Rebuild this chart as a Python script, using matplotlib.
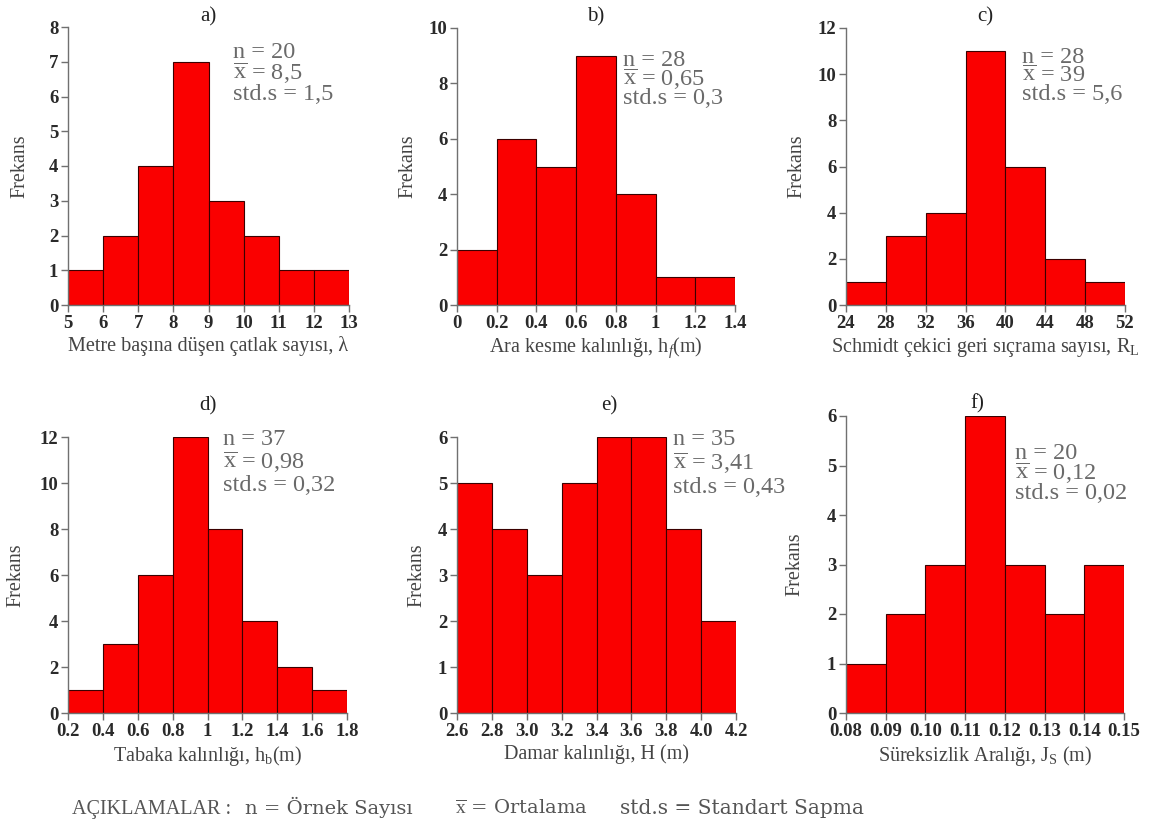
import numpy as np
import matplotlib
matplotlib.use("Agg")
import matplotlib.pyplot as plt

plt.rcParams["font.family"] = ["Liberation Serif", "DejaVu Serif"]
plt.rcParams["mathtext.fontset"] = "custom"
plt.rcParams["mathtext.rm"] = "Liberation Serif"
plt.rcParams["mathtext.it"] = "Liberation Serif:italic"

W, H = 1157, 832

# --- data ---
edges_a = [5, 6, 7, 8, 9, 10, 11, 12, 13]
counts_a = [1, 2, 4, 7, 3, 2, 1, 1]
xt_a = ["5", "6", "7", "8", "9", "10", "11", "12", "13"]
yt_a = [0, 1, 2, 3, 4, 5, 6, 7, 8]

edges_b = [0, 0.2, 0.4, 0.6, 0.8, 1.0, 1.2, 1.4]
counts_b = [2, 6, 5, 9, 4, 1, 1]
xt_b = ["0", "0.2", "0.4", "0.6", "0.8", "1", "1.2", "1.4"]
yt_b = [0, 2, 4, 6, 8, 10]

edges_c = [24, 28, 32, 36, 40, 44, 48, 52]
counts_c = [1, 3, 4, 11, 6, 2, 1]
xt_c = ["24", "28", "32", "36", "40", "44", "48", "52"]
yt_c = [0, 2, 4, 6, 8, 10, 12]

edges_d = [0.2, 0.4, 0.6, 0.8, 1.0, 1.2, 1.4, 1.6, 1.8]
counts_d = [1, 3, 6, 12, 8, 4, 2, 1]
xt_d = ["0.2", "0.4", "0.6", "0.8", "1", "1.2", "1.4", "1.6", "1.8"]
yt_d = [0, 2, 4, 6, 8, 10, 12]

edges_e = [2.6, 2.8, 3.0, 3.2, 3.4, 3.6, 3.8, 4.0, 4.2]
counts_e = [5, 4, 3, 5, 6, 6, 4, 2]
xt_e = ["2.6", "2.8", "3.0", "3.2", "3.4", "3.6", "3.8", "4.0", "4.2"]
yt_e = [0, 1, 2, 3, 4, 5, 6]

edges_f = [0.08, 0.09, 0.10, 0.11, 0.12, 0.13, 0.14, 0.15]
counts_f = [1, 2, 3, 6, 3, 2, 3]
xt_f = ["0.08", "0.09", "0.10", "0.11", "0.12", "0.13", "0.14", "0.15"]
yt_f = [0, 1, 2, 3, 4, 5, 6]

titles = ["a)", "b)", "c)", "d)", "e)", "f)"]
xlabels = [
    "Metre başına düşen çatlak sayısı, λ",
    "Ara kesme kalınlığı, h$_{\\mathit{f}}$(m)",
    "Schmidt çekici geri sıçrama sayısı, R$_\\mathrm{L}$",
    "Tabaka kalınlığı, h$_\\mathrm{b}$(m)",
    "Damar kalınlığı, H (m)",
    "Süreksizlik Aralığı, J$_\\mathrm{S}$ (m)",
]
n_vals = ["20", "28", "28", "37", "35", "20"]
mean_vals = ["8,5", "0,65", "39", "0,98", "3,41", "0,12"]
std_vals = ["1,5", "0,3", "5,6", "0,32", "0,43", "0,02"]

panels = [
    (edges_a, counts_a, xt_a, yt_a),
    (edges_b, counts_b, xt_b, yt_b),
    (edges_c, counts_c, xt_c, yt_c),
    (edges_d, counts_d, xt_d, yt_d),
    (edges_e, counts_e, xt_e, yt_e),
    (edges_f, counts_f, xt_f, yt_f),
]

# --- layout in pixels: left, top, right, bottom of each axes ---
boxes = [
    (68, 27, 349, 305),
    (457, 28, 735, 305),
    (846, 28, 1125, 305),
    (68, 437, 347, 713),
    (457, 437, 736, 713),
    (846, 416, 1124, 713),
]
# stats block: x, top, line spacing
stat_pos = [
    (233, 42, 0.88),
    (623, 50, 0.78),
    (1022, 47, 0.85),
    (223, 429, 1.0),
    (673, 429, 1.05),
    (1015, 443, 0.82),
]
ylabel_x = [29, 417, 806, 25, 426, 804]   # right edge of rotated label
title_pos = [(208, 17), (596, 17), (985, 17), (208, 406), (609, 406), (977, 404)]

RED = "#fa0000"
GRAY = "#707070"
TXT = "#2a2a2a"

fig = plt.figure(figsize=(W / 100, H / 100), dpi=100)

for i, (edges, counts, xt, yt) in enumerate(panels):
    l, t, r, b = boxes[i]
    ax = fig.add_axes([l / W, 1 - b / H, (r - l) / W, (b - t) / H])
    widths = np.diff(edges)
    ax.bar(edges[:-1], counts, width=widths, align="edge",
           color=RED, edgecolor="#3a0000", linewidth=0.8, zorder=2)
    ax.set_xlim(edges[0], edges[-1])
    ax.set_ylim(0, yt[-1])
    ax.set_xticks(edges)
    ax.set_xticklabels(xt)
    ax.set_yticks(yt)
    for s in ["top", "right"]:
        ax.spines[s].set_visible(False)
    for s in ["left", "bottom"]:
        ax.spines[s].set_color(GRAY)
        ax.spines[s].set_linewidth(1.0)
    ax.tick_params(axis="both", direction="out", length=5, width=1,
                   color=GRAY, labelsize=13.5, labelcolor=TXT, pad=2)
    for lab in ax.get_xticklabels() + ax.get_yticklabels():
        lab.set_fontweight("bold")
    ax.set_xlabel(xlabels[i], fontsize=14.5, color="#444444", labelpad=3)
    ax.set_ylabel("Frekans", fontsize=14.5, color="#444444")
    ax.yaxis.set_label_coords((ylabel_x[i] - l) / (r - l), 0.5)

    tx, ty = title_pos[i]
    fig.text(tx / W, 1 - ty / H, titles[i], fontsize=15, color="#222222",
             ha="center", va="center")

    sx, sy, ls = stat_pos[i]
    block = "\n".join(["n = " + n_vals[i],
                       "$\\overline{\\mathrm{x}}$ = " + mean_vals[i],
                       "std.s = " + std_vals[i]])
    fig.text(sx / W, 1 - sy / H, block, fontsize=17.5, linespacing=ls,
             color="#6a6a6a", ha="left", va="top")

# explanation line at the bottom
legend_parts = [
    (72, "AÇIKLAMALAR :", "Liberation Serif", 14.5),
    (245, "n = Örnek Sayısı", "DejaVu Serif", 14),
    (455, "$\\overline{\\mathrm{x}}$ = Ortalama", "DejaVu Serif", 14),
    (620, "std.s = Standart Sapma", "DejaVu Serif", 14.5),
]
for x, s, fam, fs in legend_parts:
    fig.text(x / W, 1 - 814 / H, s, fontsize=fs, color="#555555",
             family=[fam], ha="left", va="baseline")

fig.savefig("out.png", dpi=100)
